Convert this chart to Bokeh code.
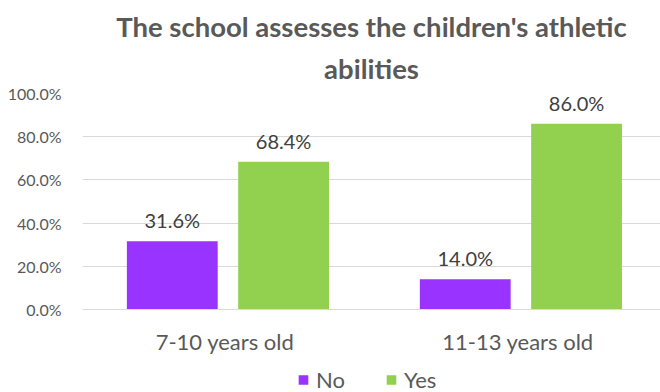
from bokeh.plotting import figure
from bokeh.layouts import column
from bokeh.models import (FactorRange, Range1d, NumeralTickFormatter, Title, Legend,
                          LegendItem, ColumnDataSource, FixedTicker)
from bokeh.transform import dodge
from bokeh.core.properties import value
from bokeh.embed import file_html
from bokeh.resources import INLINE

categories = ["7-10 years old", "11-13 years old"]
no_values = [0.316, 0.140]
yes_values = [0.684, 0.860]
no_labels = ["31.6%", "14.0%"]
yes_labels = ["68.4%", "86.0%"]
y_ticks = [0.0, 0.2, 0.4, 0.6, 0.8, 1.0]
series_names = ["No", "Yes"]
series_colors = ["#9933FF", "#92D050"]
title_lines = ["The school assesses the children's athletic", "abilities"]

FONT = "Lato"
src = ColumnDataSource(dict(cat=categories, no=no_values, yes=yes_values,
                            no_lab=no_labels, yes_lab=yes_labels))

p = figure(frame_width=578, frame_height=216, output_backend="svg", toolbar_location=None,
           x_range=FactorRange(factors=categories, range_padding=-0.0135),
           y_range=Range1d(0, 1.0),
           min_border_left=82, min_border_right=0, min_border_top=93, min_border_bottom=57)
p.outline_line_color = None
p.background_fill_color = "white"
p.border_fill_color = "white"

OFF_NO, OFF_YES = -0.18, 0.20
p.vbar(x=dodge("cat", OFF_NO, range=p.x_range), top="no", width=0.31, source=src,
       fill_color=series_colors[0], line_color=None)
p.vbar(x=dodge("cat", OFF_YES, range=p.x_range), top="yes", width=0.31, source=src,
       fill_color=series_colors[1], line_color=None)

for col, off in (("no", OFF_NO), ("yes", OFF_YES)):
    p.text(x=dodge("cat", off, range=p.x_range), y=col, text=col + "_lab", source=src,
           text_align="center", text_baseline="bottom", y_offset=-9,
           text_font=value(FONT), text_font_size="20px", text_color="#404040")

# axes
p.yaxis.ticker = FixedTicker(ticks=y_ticks)
p.yaxis.formatter = NumeralTickFormatter(format="0.0%")
p.yaxis.axis_line_color = None
p.yaxis.major_tick_line_color = None
p.yaxis.minor_tick_line_color = None
p.yaxis.major_label_text_font = FONT
p.yaxis.major_label_text_font_size = "16px"
p.yaxis.major_label_text_color = "#595959"
p.yaxis.major_label_standoff = 15

p.xaxis.axis_line_color = "#D9D9D9"
p.xaxis.major_tick_line_color = None
p.xaxis.minor_tick_line_color = None
p.xaxis.major_label_text_font = FONT
p.xaxis.major_label_text_font_size = "22px"
p.xaxis.major_label_text_color = "#595959"
p.xaxis.major_label_standoff = 12

p.xgrid.grid_line_color = None
p.ygrid.grid_line_color = "#D9D9D9"
p.ygrid.ticker = FixedTicker(ticks=y_ticks)

t2 = Title(text=title_lines[1], align="center", offset=-15, text_font=FONT,
           text_font_size="27.5px", text_font_style="bold", text_color="#595959",
           standoff=13, vertical_align="top")
t1 = Title(text=title_lines[0], align="center", text_font=FONT, text_font_size="27.5px",
           text_font_style="bold", text_color="#595959", standoff=6, vertical_align="bottom")
p.add_layout(t2, "above")
p.add_layout(t1, "above")

# legend strip below the chart (swatch renderers are zero-height, invisible)
lg = figure(width=660, height=26, output_backend="svg", toolbar_location=None,
            x_range=Range1d(0, 1), y_range=Range1d(0, 1),
            x_axis_location=None, y_axis_location=None, min_border=0)
lg.outline_line_color = None
lg.grid.visible = False
lg.border_fill_color = "white"
items = []
for name, color in zip(series_names, series_colors):
    sw = ColumnDataSource(dict(x=[0.0], top=[0.0]))
    r = lg.vbar(x="x", top="top", bottom=0, width=0.01, source=sw,
                fill_color=color, line_color=None)
    items.append(LegendItem(label=name, renderers=[r]))
legend = Legend(items=items, orientation="horizontal", location="left",
                label_text_font=FONT, label_text_font_size="22px", label_text_color="#595959",
                glyph_width=12, glyph_height=12, spacing=40, label_standoff=7,
                border_line_color=None, background_fill_alpha=0, padding=0, margin=215)
lg.add_layout(legend, "center")

layout = column(p, lg, spacing=0)
open("out.html", "w").write(file_html(layout, INLINE))
